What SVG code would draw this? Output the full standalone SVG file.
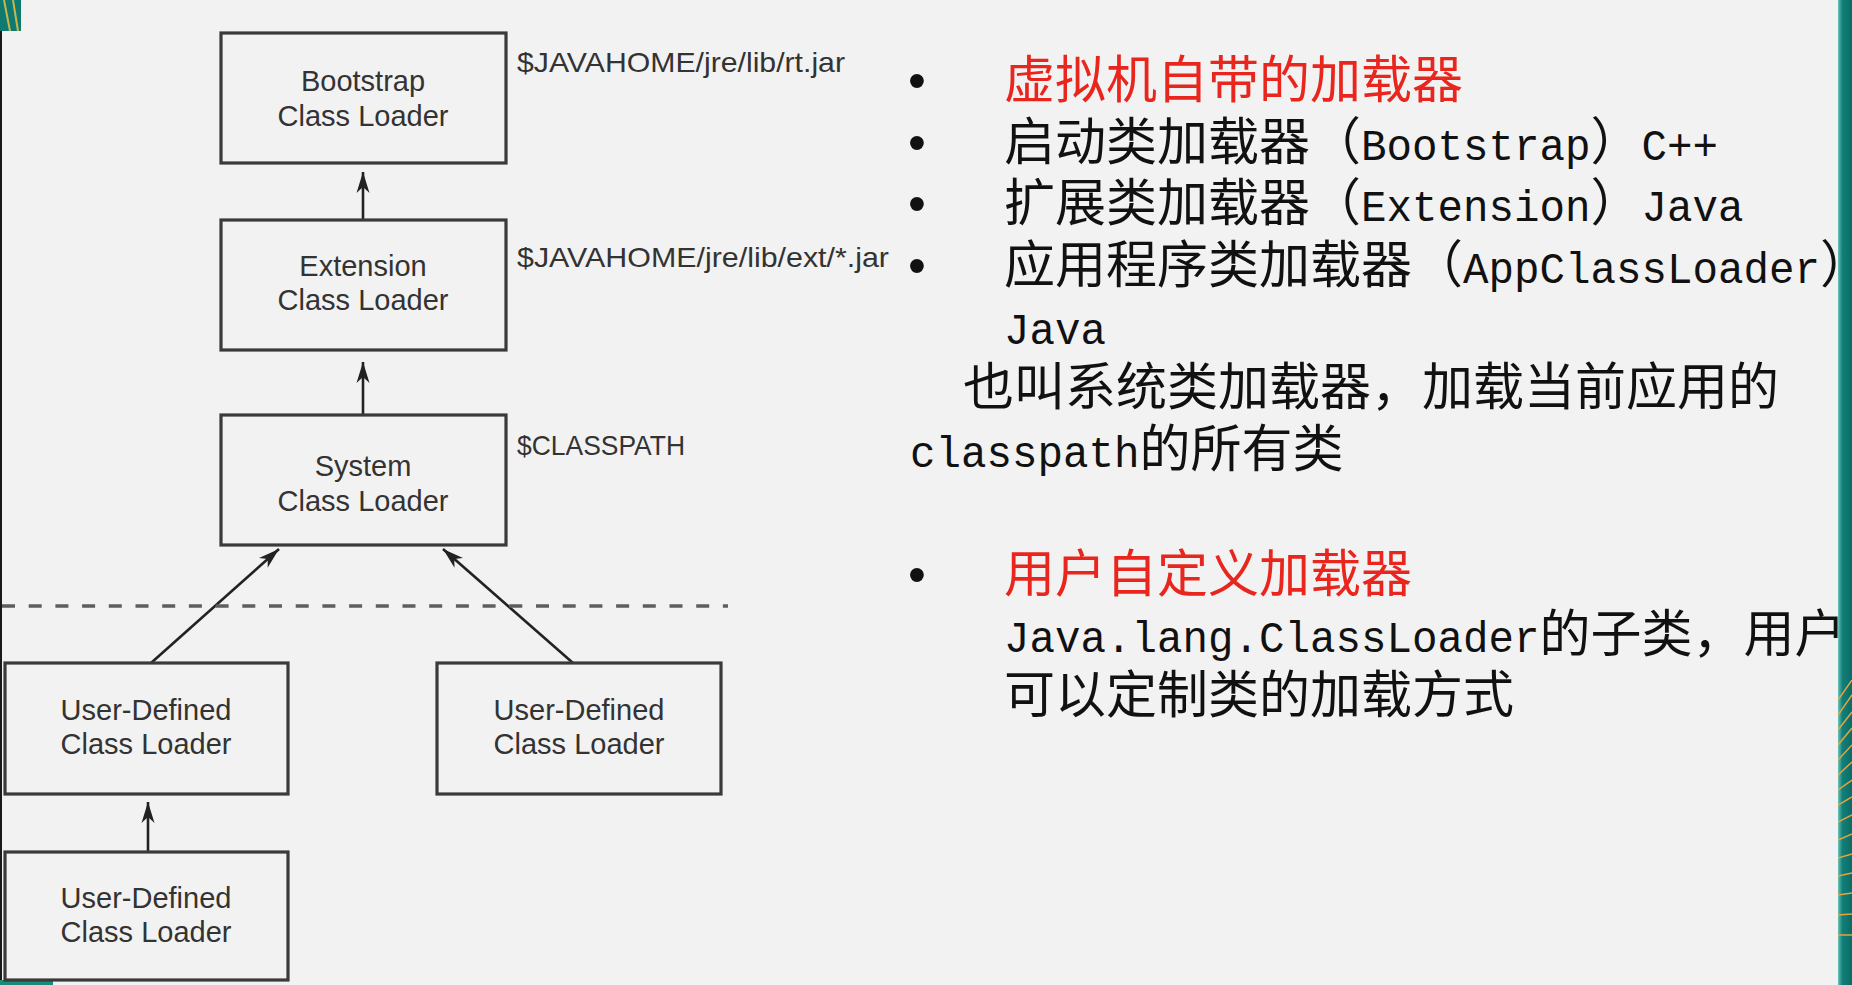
<svg xmlns="http://www.w3.org/2000/svg" width="1852" height="985" viewBox="0 0 1852 985">
<style>
.box{fill:none;stroke:#3a3a3a;stroke-width:3.2}
.bt{font-family:"Liberation Sans",Arial,sans-serif;font-size:29px;fill:#333;text-anchor:middle}
.lbl{font-family:"Liberation Sans",Arial,sans-serif;font-size:28px;fill:#333}
.edge{stroke:#222;stroke-width:2.6;fill:none;marker-end:url(#ah)}
.cjk{font-family:"Noto Sans CJK SC","Noto Sans CJK TC",sans-serif;font-size:51px;fill:#111}
.lat{font-family:"Liberation Mono","DejaVu Sans Mono",monospace;font-size:44px;fill:#111}
.red{fill:#e8261d}
.bul{font-family:"Liberation Sans",Arial,sans-serif;font-size:51px;fill:#111;text-anchor:middle}
.orn{stroke:#e8a33a;stroke-width:1.5}
</style>
<defs>
<marker id="ah" markerWidth="22" markerHeight="14" viewBox="-21 -7 22 14" refX="0" refY="0" orient="auto" markerUnits="userSpaceOnUse">
<path d="M0,0 L-21,-6.5 L-15,0 L-21,6.5 Z" fill="#222"/>
</marker>
<linearGradient id="band" x1="0" y1="0" x2="1" y2="0">
<stop offset="0" stop-color="#6cc2b6"/>
<stop offset="0.3" stop-color="#12807a"/>
<stop offset="1" stop-color="#0b6a63"/>
</linearGradient>
<clipPath id="bandclip"><rect x="1838" y="680" width="14" height="270"/></clipPath>
</defs>
<rect x="0" y="0" width="1852" height="985" fill="#f2f2f2"/>

<g id="decor">
<rect x="0" y="0" width="2" height="985" fill="#1a1a1a"/>
<rect x="0" y="0" width="21" height="31" fill="#0f7a70"/>
<path d="M4,0 L10,31 M13,0 L18,31" stroke="#c9b64a" stroke-width="2"/>
<rect x="0" y="980" width="53" height="5" fill="#1a8a7a"/>
<rect x="1838" y="0" width="14" height="985" fill="url(#band)"/>
<g clip-path="url(#bandclip)">
<path class="orn" d="M1838,700 L1852,680 M1838,715 L1852,695 M1838,730 L1852,712 M1838,745 L1852,728 M1838,760 L1852,745 M1838,775 L1852,762 M1838,790 L1852,780 M1838,805 L1852,797 M1838,822 L1852,815 M1838,840 L1852,834 M1838,858 L1852,854 M1838,876 L1852,873 M1838,895 L1852,893 M1838,915 L1852,914 M1838,935 L1852,935"/>
</g>
</g>

<g id="connectors">
<path class="edge" d="M363,220 L363,172"/>
<path class="edge" d="M363,415 L363,362"/>
<path class="edge" d="M151,663 L279,549"/>
<path class="edge" d="M573,663 L443,549"/>
<path class="edge" d="M148,852 L148,802"/>
<line x1="2" y1="606" x2="728" y2="606" stroke="#5e5e5e" stroke-width="3.5" stroke-dasharray="13 13.7"/>
</g>

<g id="bootstrap">
<rect class="box" x="221" y="33" width="285" height="130"/>
<text class="bt" x="363" y="91">Bootstrap</text>
<text class="bt" x="363" y="126">Class Loader</text>
<text class="lbl" x="517" y="72" textLength="328" lengthAdjust="spacingAndGlyphs">$JAVAHOME/jre/lib/rt.jar</text>
</g>
<g id="extension">
<rect class="box" x="221" y="220" width="285" height="130"/>
<text class="bt" x="363" y="276">Extension</text>
<text class="bt" x="363" y="310">Class Loader</text>
<text class="lbl" x="517" y="267" textLength="372" lengthAdjust="spacingAndGlyphs">$JAVAHOME/jre/lib/ext/*.jar</text>
</g>
<g id="system">
<rect class="box" x="221" y="415" width="285" height="130"/>
<text class="bt" x="363" y="476">System</text>
<text class="bt" x="363" y="511">Class Loader</text>
<text class="lbl" x="517" y="455" textLength="168" lengthAdjust="spacingAndGlyphs">$CLASSPATH</text>
</g>
<g id="user1">
<rect class="box" x="5" y="663" width="283" height="131"/>
<text class="bt" x="146" y="720">User-Defined</text>
<text class="bt" x="146" y="754">Class Loader</text>
</g>
<g id="user2">
<rect class="box" x="437" y="663" width="284" height="131"/>
<text class="bt" x="579" y="720">User-Defined</text>
<text class="bt" x="579" y="754">Class Loader</text>
</g>
<g id="user3">
<rect class="box" x="5" y="852" width="283" height="128"/>
<text class="bt" x="146" y="908">User-Defined</text>
<text class="bt" x="146" y="942">Class Loader</text>
</g>

<g id="notes">
<text class="bul red" x="917" y="98">•</text>
<text class="cjk red" x="1004" y="98">虚拟机自带的加载器</text>

<text class="bul" x="917" y="160">•</text>
<text class="cjk" x="1004" y="160">启动类加载器（</text>
<text class="lat" x="1361" y="160" textLength="229.5" lengthAdjust="spacingAndGlyphs">Bootstrap</text>
<text class="cjk" x="1590.5" y="160">）</text>
<text class="lat" x="1641.5" y="160" textLength="76.5" lengthAdjust="spacingAndGlyphs">C++</text>

<text class="bul" x="917" y="221">•</text>
<text class="cjk" x="1004" y="221">扩展类加载器（</text>
<text class="lat" x="1361" y="221" textLength="229.5" lengthAdjust="spacingAndGlyphs">Extension</text>
<text class="cjk" x="1590.5" y="221">）</text>
<text class="lat" x="1641.5" y="221" textLength="102" lengthAdjust="spacingAndGlyphs">Java</text>

<text class="bul" x="917" y="283">•</text>
<text class="cjk" x="1004" y="283">应用程序类加载器（</text>
<text class="lat" x="1463" y="283" textLength="357" lengthAdjust="spacingAndGlyphs">AppClassLoader</text>
<text class="cjk" x="1820" y="283">）</text>

<text class="lat" x="1004" y="344" textLength="102" lengthAdjust="spacingAndGlyphs">Java</text>
<text class="cjk" x="963" y="405">也叫系统类加载器，加载当前应用的</text>
<text class="lat" x="910" y="467" textLength="229.5" lengthAdjust="spacingAndGlyphs">classpath</text>
<text class="cjk" x="1139.5" y="467">的所有类</text>

<text class="bul red" x="917" y="592">•</text>
<text class="cjk red" x="1004" y="592">用户自定义加载器</text>
<text class="lat" x="1004" y="652" textLength="535.5" lengthAdjust="spacingAndGlyphs">Java.lang.ClassLoader</text>
<text class="cjk" x="1539.5" y="652">的子类，用户</text>
<text class="cjk" x="1004" y="713">可以定制类的加载方式</text>
</g>
<rect x="1838" y="0" width="14" height="680" fill="url(#band)"/>
<rect x="1838" y="950" width="14" height="35" fill="url(#band)"/>
</svg>
